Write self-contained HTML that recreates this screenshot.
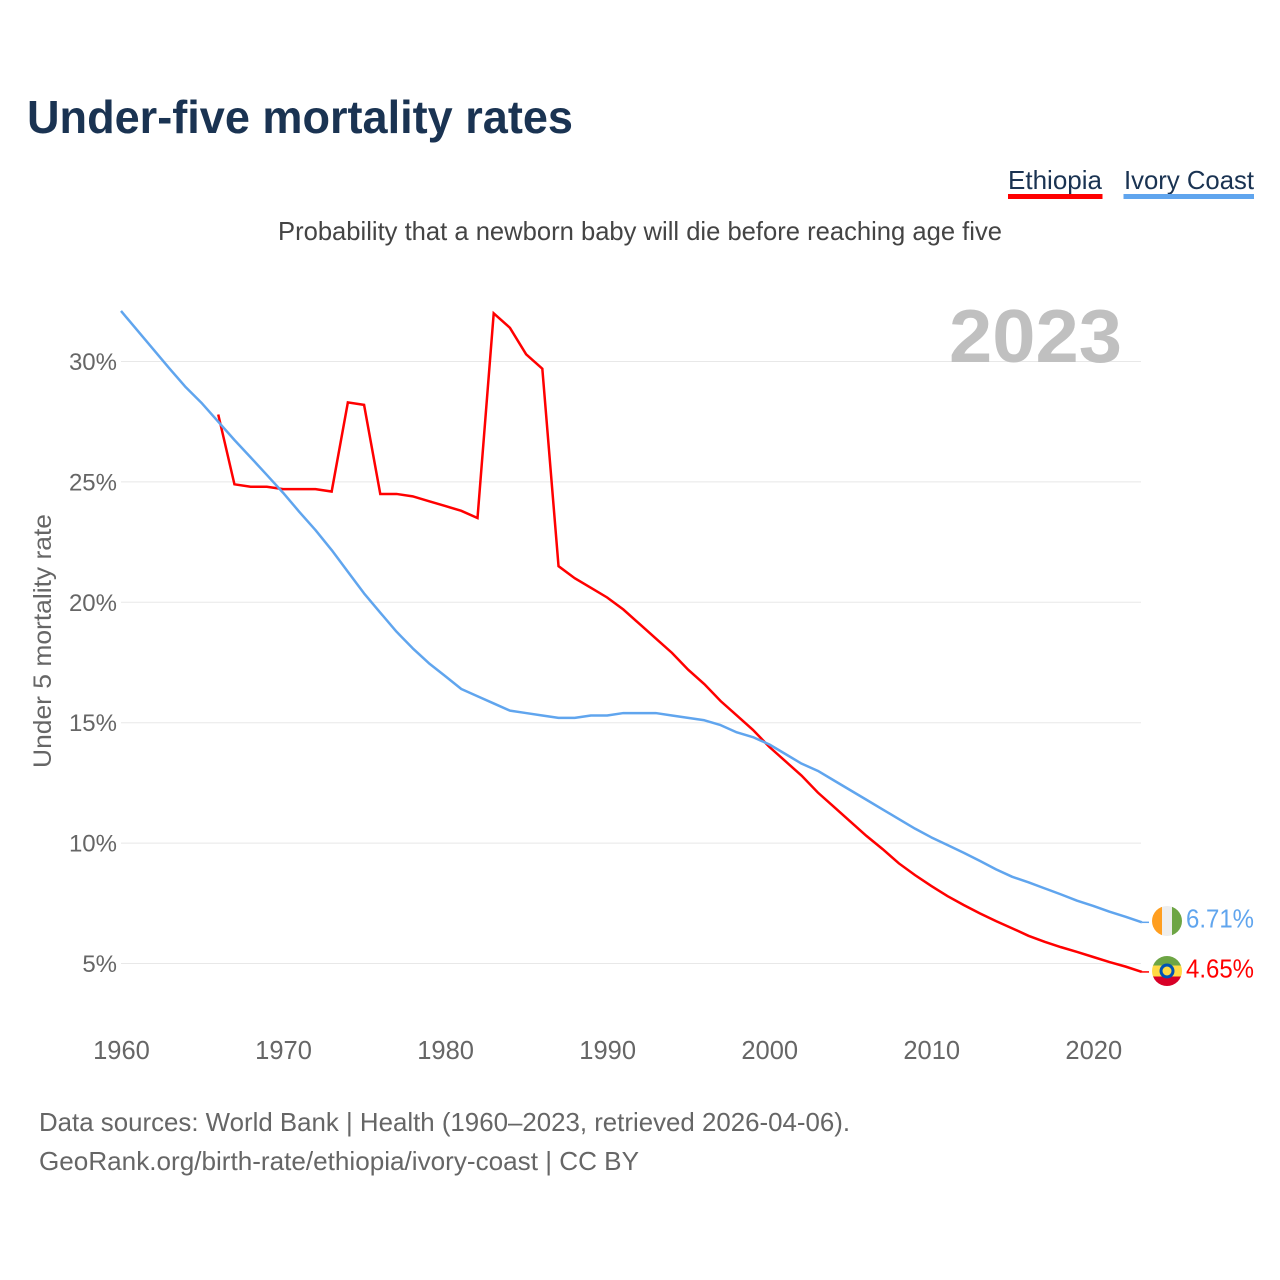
<!DOCTYPE html>
<html lang="en">
<head>
<meta charset="utf-8">
<title>Under-five mortality rates</title>
<style>
html,body{margin:0;padding:0;background:#fff;width:1280px;height:1280px;overflow:hidden}
svg{display:block;font-family:"Liberation Sans",Arial,sans-serif}
</style>
</head>
<body>
<svg id="chart" width="1280" height="1280" viewBox="0 0 1280 1280" xmlns="http://www.w3.org/2000/svg">
  <defs>
    <clipPath id="flag-clip-ci"><circle cx="1167" cy="921" r="15"/></clipPath>
    <clipPath id="flag-clip-et"><circle cx="1167" cy="971" r="15"/></clipPath>
  </defs>
  <text x="27" y="133" font-size="46" font-weight="700" fill="#1a3352" textLength="546" lengthAdjust="spacingAndGlyphs">Under-five mortality rates</text>

  <g>
    <text x="1008" y="189" font-size="26" fill="#1a3352" textLength="94" lengthAdjust="spacingAndGlyphs">Ethiopia</text>
    <rect x="1008" y="194" width="94.500" height="5" fill="#ff0000"/>
  </g>
  <g>
    <text x="1124" y="189" font-size="26" fill="#1a3352" textLength="130" lengthAdjust="spacingAndGlyphs">Ivory Coast</text>
    <rect x="1123.500" y="194" width="130.500" height="5" fill="#60a5ee"/>
  </g>

  <text x="278" y="240" font-size="26" fill="#444444" textLength="724" lengthAdjust="spacingAndGlyphs">Probability that a newborn baby will die before reaching age five</text>

  <g id="grid"></g>
  <g id="yticks"></g>
  <g id="xticks"></g>

  <text x="949" y="362" font-size="75" font-weight="700" fill="#c0c0c0" textLength="173" lengthAdjust="spacingAndGlyphs">2023</text>

  <text transform="translate(51 768) rotate(-90)" font-size="25" fill="#666666" textLength="254" lengthAdjust="spacingAndGlyphs">Under 5 mortality rate</text>

  <polyline id="line-et" fill="none" stroke="#ff0000" stroke-width="2.500" stroke-linejoin="miter"/>
  <polyline id="line-ci" fill="none" stroke="#60a5ee" stroke-width="2.500" stroke-linejoin="round"/>

  <line id="conn-ci" x1="1142" x2="1149" stroke="#60a5ee" stroke-width="1.500"/>
  <line id="conn-et" x1="1142" x2="1149" stroke="#ff0000" stroke-width="1.500"/>

  <g clip-path="url(#flag-clip-ci)">
    <rect x="1152" y="906" width="10" height="30" fill="#ff9e1f"/>
    <rect x="1162" y="906" width="10" height="30" fill="#eeeeee"/>
    <rect x="1172" y="906" width="10" height="30" fill="#6da544"/>
  </g>
  <g clip-path="url(#flag-clip-et)">
    <rect x="1152" y="956" width="30" height="10" fill="#6da544"/>
    <rect x="1152" y="965.500" width="30" height="11" fill="#ffda44"/>
    <rect x="1152" y="976.500" width="30" height="10" fill="#d80027"/>
    <circle cx="1167" cy="971" r="7.500" fill="#0052b4"/>
    <circle cx="1167" cy="971" r="4.500" fill="#ffda44"/>
  </g>

  <text x="1186" y="927.500" font-size="26" fill="#60a5ee" textLength="68" lengthAdjust="spacingAndGlyphs">6.71%</text>
  <text x="1186" y="977.500" font-size="26" fill="#ff0000" textLength="68" lengthAdjust="spacingAndGlyphs">4.65%</text>

  <text x="39" y="1131" font-size="26" fill="#666666" textLength="811" lengthAdjust="spacingAndGlyphs">Data sources: World Bank | Health (1960–2023, retrieved 2026-04-06).</text>
  <text x="39" y="1170" font-size="26" fill="#666666" textLength="600" lengthAdjust="spacingAndGlyphs">GeoRank.org/birth-rate/ethiopia/ivory-coast | CC BY</text>
</svg>
<script>
const yTickValues = [30, 25, 20, 15, 10, 5];
const xTickValues = [1960, 1970, 1980, 1990, 2000, 2010, 2020];
const ivoryCoastStartYear = 1960;
const ivoryCoastValues = [32.1,31.3,30.5,29.7,28.93,28.26,27.5,26.74,26.02,25.29,24.55,23.76,23.0,22.17,21.27,20.37,19.57,18.78,18.09,17.47,16.94,16.4,16.1,15.8,15.5,15.4,15.3,15.2,15.2,15.3,15.3,15.4,15.4,15.4,15.3,15.2,15.1,14.9,14.6,14.4,14.1,13.7,13.3,13.0,12.6,12.2,11.8,11.4,11.0,10.6,10.24,9.92,9.6,9.26,8.91,8.6,8.37,8.12,7.87,7.61,7.39,7.15,6.94,6.71];
const ethiopiaStartYear = 1966;
const ethiopiaValues = [27.8,24.9,24.8,24.8,24.7,24.7,24.7,24.6,28.3,28.2,24.5,24.5,24.4,24.2,24.0,23.8,23.5,32.0,31.4,30.3,29.7,21.5,21.0,20.6,20.2,19.7,19.1,18.5,17.9,17.2,16.6,15.9,15.3,14.7,14.0,13.4,12.8,12.1,11.5,10.9,10.3,9.75,9.16,8.67,8.22,7.8,7.43,7.08,6.76,6.46,6.15,5.9,5.68,5.48,5.27,5.06,4.87,4.65];

const NS = 'http://www.w3.org/2000/svg';
function xScale(year) { return 121 + (year - 1960) * 16.205; }
function yScale(v) { return 361.5 + (30 - v) * 24.08; }

const grid = document.getElementById('grid');
const yticks = document.getElementById('yticks');
const xticks = document.getElementById('xticks');

yTickValues.forEach(function (v) {
  const l = document.createElementNS(NS, 'line');
  
  
  l.setAttribute('x1', 121);
  l.setAttribute('x2', 1141);
  l.setAttribute('y1', yScale(v));
  l.setAttribute('y2', yScale(v));
  l.setAttribute('stroke', '#e8e8e8');
  l.setAttribute('stroke-width', 1);
  grid.appendChild(l);

  const t = document.createElementNS(NS, 'text');
  
  
  t.setAttribute('x', 117);
  t.setAttribute('y', yScale(v) + 8.5);
  t.setAttribute('text-anchor', 'end');
  t.setAttribute('font-size', 24);
  t.setAttribute('fill', '#666666');
  t.textContent = v + '%';
  yticks.appendChild(t);
});

xTickValues.forEach(function (y) {
  const t = document.createElementNS(NS, 'text');
  
  
  t.setAttribute('x', xScale(y) + 0.5);
  t.setAttribute('y', 1059);
  t.setAttribute('text-anchor', 'middle');
  t.setAttribute('font-size', 25.5);
  t.setAttribute('fill', '#666666');
  t.textContent = y;
  xticks.appendChild(t);
});

function pointsFor(startYear, values) {
  return values.map(function (v, i) {
    return xScale(startYear + i).toFixed(2) + ',' + yScale(v).toFixed(2);
  }).join(' ');
}
document.getElementById('line-et').setAttribute('points', pointsFor(ethiopiaStartYear, ethiopiaValues));
document.getElementById('line-ci').setAttribute('points', pointsFor(ivoryCoastStartYear, ivoryCoastValues));

const connCi = document.getElementById('conn-ci');
const ciLast = yScale(ivoryCoastValues[ivoryCoastValues.length - 1]);
connCi.setAttribute('y1', ciLast);
connCi.setAttribute('y2', ciLast);
const connEt = document.getElementById('conn-et');
const etLast = yScale(ethiopiaValues[ethiopiaValues.length - 1]);
connEt.setAttribute('y1', etLast);
connEt.setAttribute('y2', etLast);
</script>
</body>
</html>
